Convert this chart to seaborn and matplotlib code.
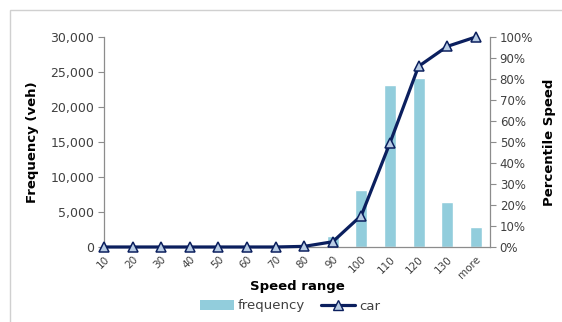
import matplotlib
matplotlib.use("Agg")
import matplotlib.pyplot as plt
import matplotlib.ticker as mticker
from matplotlib.lines import Line2D
from matplotlib.patches import Patch, Rectangle
import seaborn as sns
import pandas as pd

# Speed distribution of cars by speed range
speed_range = ["10", "20", "30", "40", "50", "60", "70", "80", "90", "100", "110", "120", "130", "more"]
frequency = [0, 0, 0, 0, 0, 0, 0, 60, 1600, 8200, 23200, 24200, 6500, 2800]
percentile = [0.0, 0.0, 0.0, 0.0, 0.0, 0.0, 0.0, 0.003, 0.025, 0.15, 0.495, 0.86, 0.955, 1.0]

freq_ticks = [0, 5000, 10000, 15000, 20000, 25000, 30000]
pct_ticks = [i / 10 for i in range(11)]

BAR = "#92cddc"
LINE = "#0b1f5e"
MARK_FACE = "#b8cce4"
AXIS = "#8c8c8c"
TXT = "#404040"

sns.set_theme(style="white")
plt.rcParams["font.family"] = ["DejaVu Sans"]

df = pd.DataFrame({"speed": speed_range, "frequency": frequency, "pct": percentile})

fig = plt.figure(figsize=(5.62, 3.22), dpi=100)
ax = fig.add_axes([104 / 562, 1 - 247 / 322, (490 - 104) / 562, (247 - 37) / 322])

sns.barplot(data=df, x="speed", y="frequency", color=BAR, width=0.42,
            saturation=1, ax=ax, zorder=1)

ax2 = ax.twinx()
sns.pointplot(data=df, x="speed", y="pct", color=LINE, markers="^",
              ax=ax2, zorder=3)
for ln in ax2.lines:
    ln.set_linewidth(2.3)
    ln.set_markersize(6.5)
    ln.set_markerfacecolor(MARK_FACE)
    ln.set_markeredgecolor(LINE)
    ln.set_markeredgewidth(1.1)
    ln.set_clip_on(False)

n = len(speed_range)
ax.set_xlim(0, n - 0.5)
ax2.set_xlim(0, n - 0.5)
ax.set_ylim(0, 30000)
ax2.set_ylim(0, 1)
ax.set_yticks(freq_ticks)
ax2.set_yticks(pct_ticks)
ax.yaxis.set_major_formatter(mticker.FuncFormatter(lambda v, p: f"{int(v):,}"))
ax2.yaxis.set_major_formatter(mticker.FuncFormatter(lambda v, p: f"{int(round(v * 100))}%"))

for a in (ax, ax2):
    for s in a.spines.values():
        s.set_visible(False)
ax.spines["left"].set_visible(True)
ax.spines["bottom"].set_visible(True)
ax2.spines["right"].set_visible(True)
for s in (ax.spines["left"], ax.spines["bottom"], ax2.spines["right"]):
    s.set_color(AXIS)
    s.set_linewidth(0.9)

ax.tick_params(axis="y", direction="out", length=4, width=0.8, color=AXIS,
               labelsize=9, labelcolor=TXT, pad=3, left=True)
ax2.tick_params(axis="y", direction="out", length=4, width=0.8, color=AXIS,
                labelsize=8.5, labelcolor=TXT, pad=3, right=True)
ax.set_xticks(range(n))
ax.set_xticklabels(speed_range, rotation=45, ha="right", rotation_mode="anchor")
ax.tick_params(axis="x", length=0, labelsize=7.5, labelcolor=TXT, pad=5)
ax2.tick_params(axis="x", length=0, labelbottom=False, labeltop=False)

ax.set_xlabel("Speed range", fontsize=9.5, fontweight="bold", color="black", labelpad=0)
ax.set_ylabel("Frequency (veh)", fontsize=9.5, fontweight="bold", color="black", labelpad=8)
ax2.set_ylabel("Percentile Speed", fontsize=9.5, fontweight="bold", color="black", labelpad=7)

handles = [Patch(facecolor=BAR, edgecolor="none"),
           Line2D([0], [0], color=LINE, lw=2.3, marker="^", markersize=6.5,
                  markerfacecolor=MARK_FACE, markeredgecolor=LINE)]
fig.legend(handles, ["frequency", "car"], loc="center", bbox_to_anchor=(290 / 562, 1 - 306 / 322),
           ncol=2, frameon=False, fontsize=9.5, handlelength=2.6, columnspacing=1.2,
           handletextpad=0.3, labelcolor=TXT)

# chart area frame
fig.patches.append(Rectangle((10 / 562, -0.1), 1.2, 1 - 10 / 322 + 0.1,
                             transform=fig.transFigure, fill=False,
                             edgecolor="#d0d0d0", linewidth=1.0))

fig.savefig("out.png", dpi=100)
